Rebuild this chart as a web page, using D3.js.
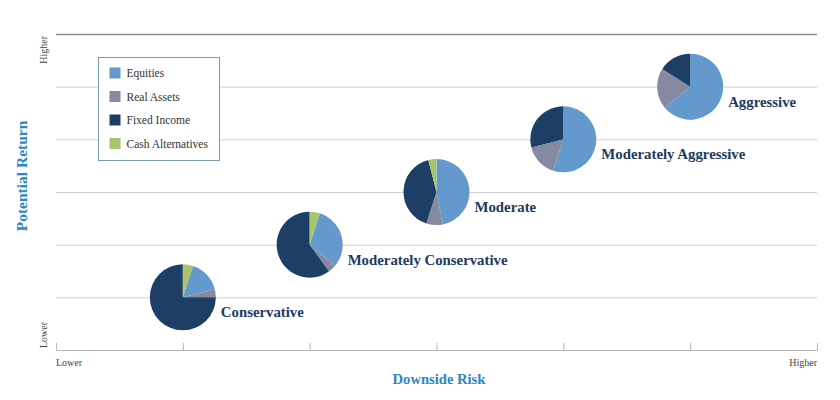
<!DOCTYPE html>
<html>
<head>
<meta charset="utf-8">
<script src="https://cdn.jsdelivr.net/npm/d3@7"></script>
<style>
  html, body { margin: 0; padding: 0; background: #fff; }
  svg { display: block; }
</style>
</head>
<body>
<svg id="chart" width="840" height="400" font-family="'Liberation Serif', 'DejaVu Serif', serif"></svg>
<script>
// ---- data ----
const portfolios = ["Conservative", "Moderately Conservative", "Moderate", "Moderately Aggressive", "Aggressive"];
const riskLevel = [1, 2, 3, 4, 5];
const returnLevel = [1, 2, 3, 4, 5];
const seriesNames = ["Equities", "Real Assets", "Fixed Income", "Cash Alternatives"];
const equities = [16, 31, 47, 55, 64];
const realAssets = [4, 4, 8, 16, 20];
const fixedIncome = [75, 60, 41, 29, 16];
const cashAlternatives = [5, 5, 4, 0, 0];
const leadsWithCash = [true, true, false, false, false];
const xTickValues = [0, 1, 2, 3, 4, 5, 6];
const yTickValues = [0, 1, 2, 3, 4, 5, 6];
const axisEndLabels = ["Lower", "Higher"];

const colors = ["#6399cd", "#858aa1", "#1d3f66", "#a8c46d"];

const svg = d3.select("#chart");
const x = d3.scaleLinear().domain([0, 6]).range([56, 817]);
const y = d3.scaleLinear().domain([0, 6]).range([350, 34]);
const color = d3.scaleOrdinal().domain(seriesNames).range(colors);

// gridlines
const grid = svg.append("g").attr("transform", `translate(${x(0)},0)`)
  .call(d3.axisLeft(y).tickValues(yTickValues.slice(1)).tickSize(-(x(6) - x(0))).tickFormat(""));
grid.select(".domain").remove();
grid.selectAll(".tick line")
  .attr("stroke", (d) => d === 6 ? "#8c8c8c" : "#cfcfcf")
  .attr("stroke-width", (d) => d === 6 ? 1.5 : 1);

// x axis baseline with upward ticks
const xa = svg.append("g").attr("transform", `translate(0,${y(0)})`)
  .call(d3.axisTop(x).tickValues(xTickValues).tickSize(7).tickSizeOuter(0).tickFormat(""));
xa.select(".domain").attr("stroke", "#b5b5b5");
xa.selectAll(".tick line").attr("stroke", "#b5b5b5");

// axis end labels
svg.append("text").attr("x", x(0)).attr("y", 366).attr("font-size", 10).attr("fill", "#444").text(axisEndLabels[0]);
svg.append("text").attr("x", x(6)).attr("y", 366).attr("font-size", 10).attr("fill", "#444").attr("text-anchor", "end").text(axisEndLabels[1]);
svg.append("text").attr("transform", `translate(47,${y(0) - 2}) rotate(-90)`).attr("font-size", 10).attr("fill", "#444").text(axisEndLabels[0]);
svg.append("text").attr("transform", `translate(47,${y(6) + 2}) rotate(-90)`).attr("font-size", 10).attr("fill", "#444").attr("text-anchor", "end").text(axisEndLabels[1]);

// axis titles
svg.append("text").attr("x", 439).attr("y", 384).attr("text-anchor", "middle")
  .attr("font-size", 14.6).attr("font-weight", "bold").attr("fill", "#2b87c5").text("Downside Risk");
svg.append("text").attr("transform", "translate(27,176) rotate(-90)").attr("text-anchor", "middle")
  .attr("font-size", 15.5).attr("font-weight", "bold").attr("fill", "#2b87c5").text("Potential Return");

// legend
const lg = svg.append("g").attr("transform", "translate(98.5,57.5)");
lg.append("rect").attr("width", 121).attr("height", 103).attr("fill", "#fff").attr("stroke", "#7f9bb0");
seriesNames.forEach((s, i) => {
  const row = lg.append("g").attr("transform", `translate(11,${10 + i * 23.5})`);
  row.append("rect").attr("width", 11).attr("height", 11).attr("fill", color(s));
  row.append("text").attr("x", 17).attr("y", 9.5).attr("font-size", 11.5).attr("fill", "#333").text(s);
});

// pies
const radius = 33;
const arc = d3.arc().innerRadius(0).outerRadius(radius);
portfolios.forEach((p, i) => {
  const vals = [equities[i], realAssets[i], fixedIncome[i], cashAlternatives[i]];
  const total = d3.sum(vals);
  const offset = leadsWithCash[i] ? (cashAlternatives[i] / total) * 2 * Math.PI : 0;
  const pie = d3.pie().sort(null).startAngle(offset).endAngle(offset + 2 * Math.PI);
  const g = svg.append("g").attr("transform", `translate(${x(riskLevel[i])},${y(returnLevel[i])})`);
  g.selectAll("path").data(pie(vals))
    .join("path")
    .attr("d", arc)
    .attr("fill", (d, k) => colors[k]);
  svg.append("text")
    .attr("x", x(riskLevel[i]) + 38)
    .attr("y", y(returnLevel[i]) + 20)
    .attr("font-size", 14.8).attr("font-weight", "bold").attr("fill", "#1d3a5f")
    .text(p);
});
</script>
</body>
</html>
